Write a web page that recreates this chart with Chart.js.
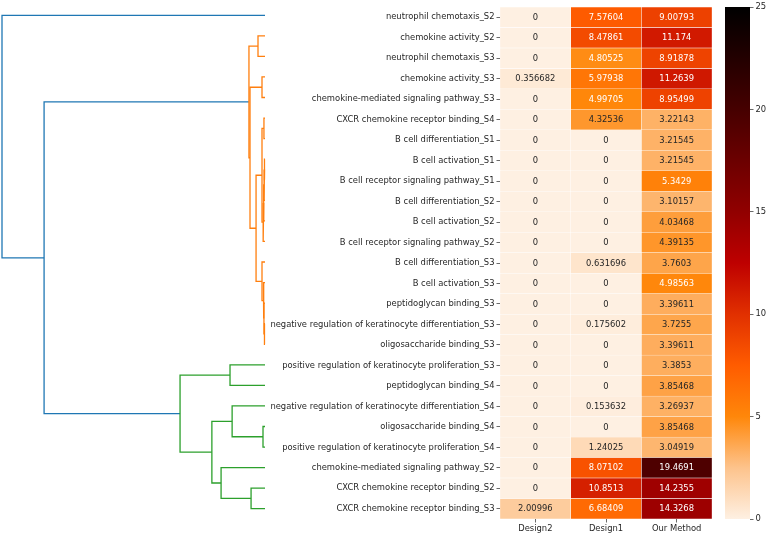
<!DOCTYPE html>
<html>
<head>
<meta charset="utf-8">
<script src="https://cdn.jsdelivr.net/npm/chart.js@4.4.0/dist/chart.umd.min.js"></script>
<style>
  html, body { margin: 0; padding: 0; background: #fff; }
  #wrap { position: relative; width: 768px; height: 533px; overflow: hidden; }
  .box { position: absolute; top: 0; height: 533px; }
  #dendroBox { left: 0; width: 268px; }
  #heatBox { left: 270px; width: 445px; }
  #cbarBox { left: 718px; width: 50px; }
</style>
</head>
<body>
<div id="wrap">
  <div class="box" id="dendroBox"><canvas id="dendro"></canvas></div>
  <div class="box" id="heatBox"><canvas id="heat"></canvas></div>
  <div class="box" id="cbarBox"><canvas id="cbar"></canvas></div>
</div>
<script>
// --- DATA ---
const rowLabels = [
    'neutrophil chemotaxis_S2',
    'chemokine activity_S2',
    'neutrophil chemotaxis_S3',
    'chemokine activity_S3',
    'chemokine-mediated signaling pathway_S3',
    'CXCR chemokine receptor binding_S4',
    'B cell differentiation_S1',
    'B cell activation_S1',
    'B cell receptor signaling pathway_S1',
    'B cell differentiation_S2',
    'B cell activation_S2',
    'B cell receptor signaling pathway_S2',
    'B cell differentiation_S3',
    'B cell activation_S3',
    'peptidoglycan binding_S3',
    'negative regulation of keratinocyte differentiation_S3',
    'oligosaccharide binding_S3',
    'positive regulation of keratinocyte proliferation_S3',
    'peptidoglycan binding_S4',
    'negative regulation of keratinocyte differentiation_S4',
    'oligosaccharide binding_S4',
    'positive regulation of keratinocyte proliferation_S4',
    'chemokine-mediated signaling pathway_S2',
    'CXCR chemokine receptor binding_S2',
    'CXCR chemokine receptor binding_S3'
];
const colLabels = ['Design2', 'Design1', 'Our Method'];

const design2 = [0, 0, 0, 0.356682, 0, 0, 0, 0, 0, 0, 0, 0, 0, 0, 0, 0, 0, 0, 0, 0, 0, 0, 0, 0, 2.00996];
const design1 = [7.57604, 8.47861, 4.80525, 5.97938, 4.99705, 4.32536, 0, 0, 0, 0, 0, 0, 0.631696, 0,
    0, 0.175602, 0, 0, 0, 0.153632, 0, 1.24025, 8.07102, 10.8513, 6.68409];
const ourMethod = [9.00793, 11.174, 8.91878, 11.2639, 8.95499, 3.22143, 3.21545, 3.21545, 5.3429, 3.10157,
    4.03468, 4.39135, 3.7603, 4.98563, 3.39611, 3.7255, 3.39611, 3.3853, 3.85468, 3.26937, 3.85468,
    3.04919, 19.4691, 14.2355, 14.3268];

const cbarTicks = [0, 5, 10, 15, 20, 25];

// linkage rows: [left child, right child, height]; new node id = rowLabels.length + row index
const linkage = [
    [5, 6, 0.4], [7, 8, 0.2], [26, 9, 0.35], [27, 10, 0.5], [28, 11, 0.7], [25, 29, 1.14],
    [15, 16, 0.2], [14, 31, 0.4], [13, 32, 0.6], [12, 33, 1.14], [30, 34, 3.4],
    [3, 4, 1.14], [36, 35, 5.7], [1, 2, 2.66], [38, 37, 6.1],
    [17, 18, 13.3], [20, 21, 0.76], [19, 41, 12.5], [23, 24, 5.3], [22, 43, 16.7],
    [42, 44, 20.2], [40, 45, 32.3], [39, 46, 84.0], [0, 47, 100]
];
const colorThreshold = 70;

// --- STYLE ---
const font = { family: 'DejaVu Sans', size: 8.4 };
const textDark = '#262626';
const aboveColor = '#1f77b4';
const clusterColors = ['#ff7f0e', '#2ca02c', '#d62728'];
const cmapStops = [
    [0, [254, 240, 226]], [2.5, [253, 195, 140]], [5, [255, 135, 10]], [7.5, [255, 92, 0]],
    [10, [225, 48, 0]], [12.5, [190, 0, 0]], [15, [145, 0, 0]], [20, [70, 0, 0]], [25, [0, 0, 0]]
];

const cmapRGB = (v) => {
    for (let i = 1; i < cmapStops.length; i++) {
        const [v0, c0] = cmapStops[i - 1];
        const [v1, c1] = cmapStops[i];
        if (v <= v1) {
            const t = (v - v0) / (v1 - v0);
            return c0.map((c, j) => Math.round(c + (c1[j] - c) * t));
        }
    }
    return cmapStops[cmapStops.length - 1][1];
};
const rgbStr = (c) => `rgb(${c[0]},${c[1]},${c[2]})`;
const luminance = (c) => {
    const lin = c.map(x => { x /= 255; return x <= 0.03928 ? x / 12.92 : Math.pow((x + 0.055) / 1.055, 2.4); });
    return 0.2126 * lin[0] + 0.7152 * lin[1] + 0.0722 * lin[2];
};

// --- DENDROGRAM ---
const n = rowLabels.length;
const nodeY = rowLabels.map((_, i) => i + 0.5);
const nodeH = rowLabels.map(() => 0);
linkage.forEach(([a, b, h]) => {
    nodeY.push((nodeY[a] + nodeY[b]) / 2);
    nodeH.push(h);
});

const linkColor = [];
let nextColor = 0;
function paint(id, color) {
    if (id < n) return;
    const k = id - n;
    const [a, b, h] = linkage[k];
    if (!color && h < colorThreshold) color = clusterColors[nextColor++];
    linkColor[k] = color || aboveColor;
    paint(a, color);
    paint(b, color);
}
paint(n + linkage.length - 1, null);

const dendroSets = linkage.map(([a, b, h], k) => ({
    data: [
        { x: nodeH[a], y: nodeY[a] }, { x: h, y: nodeY[a] },
        { x: h, y: nodeY[b] }, { x: nodeH[b], y: nodeY[b] }
    ],
    borderColor: linkColor[k],
    borderWidth: 1.3,
    showLine: true,
    pointRadius: 0,
    tension: 0,
    clip: false
}));

new Chart(document.getElementById('dendro'), {
    type: 'scatter',
    data: { datasets: dendroSets },
    options: {
        responsive: true,
        maintainAspectRatio: false,
        animation: false,
        layout: { padding: { left: 2, right: 3, top: 5, bottom: 14 } },
        plugins: { legend: { display: false }, tooltip: { enabled: false } },
        scales: {
            x: { type: 'linear', min: 0, max: 100, reverse: true, display: false },
            y: { type: 'linear', min: 0, max: n, reverse: true, display: false }
        }
    }
});

// --- HEATMAP ---
const columns = [design2, design1, ourMethod];
const heatSets = columns.map((vals, c) => ({
    label: colLabels[c],
    data: vals.map(() => [c, c + 1]),
    values: vals,
    backgroundColor: vals.map(v => rgbStr(cmapRGB(v))),
    borderColor: 'rgba(255,255,255,0.6)',
    borderWidth: 0.5,
    borderSkipped: false,
    grouped: false,
    barPercentage: 1,
    categoryPercentage: 1
}));

const annotate = {
    id: 'annotate',
    afterDatasetsDraw(chart) {
        const ctx = chart.ctx;
        ctx.save();
        ctx.font = `${font.size}px "${font.family}"`;
        ctx.textAlign = 'center';
        ctx.textBaseline = 'middle';
        chart.data.datasets.forEach((ds, di) => {
            chart.getDatasetMeta(di).data.forEach((bar, i) => {
                const v = ds.values[i];
                const p = bar.getCenterPoint();
                ctx.fillStyle = luminance(cmapRGB(v)) > 0.408 ? textDark : '#ffffff';
                ctx.fillText(String(v), p.x, p.y + 0.5);
            });
        });
        ctx.restore();
    }
};

const tickGrid = { drawOnChartArea: false, tickLength: 3.5, color: '#444', lineWidth: 0.8 };

new Chart(document.getElementById('heat'), {
    type: 'bar',
    data: { labels: rowLabels, datasets: heatSets },
    plugins: [annotate],
    options: {
        indexAxis: 'y',
        responsive: true,
        maintainAspectRatio: false,
        animation: false,
        layout: { padding: { left: 0, right: 3, top: 5, bottom: 0 } },
        plugins: { legend: { display: false }, tooltip: { enabled: false } },
        scales: {
            x: {
                type: 'linear', min: 0, max: 3, position: 'bottom',
                afterBuildTicks: s => { s.ticks = colLabels.map((_, i) => ({ value: i + 0.5 })); },
                afterFit: s => { s.height = 14; },
                ticks: { callback: v => colLabels[Math.floor(v)], font, color: textDark, padding: 1, maxRotation: 0 },
                grid: tickGrid,
                border: { display: false }
            },
            y: {
                type: 'category', offset: true,
                afterFit: s => { s.width = 230; },
                ticks: { autoSkip: false, font, color: textDark, padding: 2 },
                grid: { ...tickGrid, offset: false },
                border: { display: false }
            }
        }
    }
});

// --- COLORBAR ---
const cbMin = cbarTicks[0];
const cbMax = cbarTicks[cbarTicks.length - 1];
new Chart(document.getElementById('cbar'), {
    type: 'bar',
    data: {
        labels: [''],
        datasets: [{
            data: [[cbMin, cbMax]],
            backgroundColor: (c) => {
                const ch = c.chart;
                const ys = ch.scales.y;
                if (!ch.chartArea || !ys) return null;
                const g = ch.ctx.createLinearGradient(0, ys.getPixelForValue(cbMin), 0, ys.getPixelForValue(cbMax));
                cmapStops.forEach(([v, rgb]) => g.addColorStop((v - cbMin) / (cbMax - cbMin), rgbStr(rgb)));
                return g;
            },
            borderWidth: 0,
            barPercentage: 1,
            categoryPercentage: 1
        }]
    },
    options: {
        responsive: true,
        maintainAspectRatio: false,
        animation: false,
        layout: { padding: { left: 7, right: 0, top: 5, bottom: 14 } },
        plugins: { legend: { display: false }, tooltip: { enabled: false } },
        scales: {
            x: { display: false },
            y: {
                position: 'right', min: cbMin, max: cbMax,
                afterBuildTicks: s => { s.ticks = cbarTicks.map(v => ({ value: v })); },
                afterFit: s => { s.width = 18; },
                ticks: { font, color: textDark, padding: 2 },
                grid: tickGrid,
                border: { display: false }
            }
        }
    }
});
</script>
</body>
</html>
